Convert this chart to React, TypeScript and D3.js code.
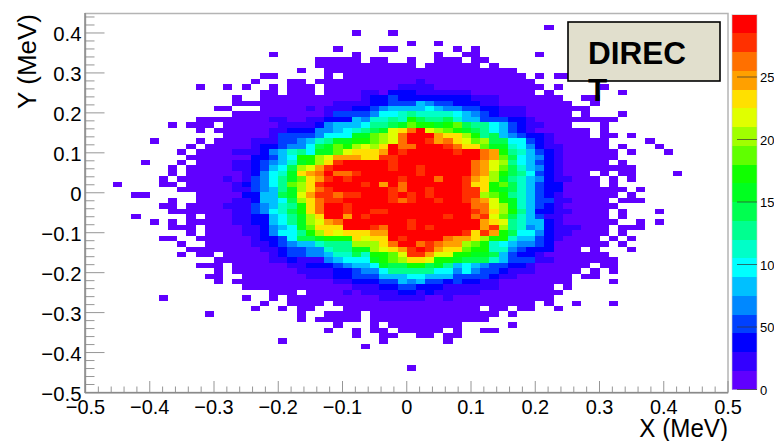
import React from "react";
import * as d3 from "d3";

// Histogram: 70 x 70 bins. Each row (top to bottom) lists occupied bins.
// "a" one bin in the first band, "a-b" a span in the first band, "a=xyz" successive bins with band codes (base 20).
const histogramRows: string[] = [
  "",
  "",
  "50",
  "29 33",
  "",
  "35 38",
  "27 32-33 40 42",
  "20 29 38 41-42 49",
  "25-29 31-32 35 38-40 42-43",
  "25-35 37-42 44",
  "23 26-46",
  "19-20 26 28-47 49 51-52",
  "18 22-23 25-35 36=1 37-48",
  "12 15 17 20 22-24 26-33 34=1111 38-49 51 56",
  "19-20 22-24 26-29 30=11 32 33=222 36=111111 42-48 50 58",
  "16 19-29 30=12232 35=2222222 42=111 45-51 54-55",
  "16-26 27=1111 31=22 33=33 35=35433 40=222 43=11 45-52 55",
  "14-15 19-23 24=101 27=11 29=22 31=34 33=555 36=56 38=5443 42=3 43=22 45=111 48-54",
  "16-25 26=1 27=3333 31=4 32=66 34=78 36=7777 40=654 43=32 45=111 48-52 54 58",
  "12-19 20=11 22-23 24=11 26=222 29=54 31=77 33=87 35=b 36=9889 40=7 41=55 43=333 46=22 48=1 49-57",
  "9 11-13 15-20 21=1111 25=2 26=4 27=555 30=6 31=889 34=a 35=cbbabc 41=98 43=8 44=65 46=3 47=2 48=11 50-52 56",
  "12 14-19 20=11 22=222 25=44 27=56 29=7 30=8 31=9 32=a 33=e 34=f 35=h 36=j 37=e 38=d 39=cb 41=a 42=9 43=8 44=6 45=5 46=3 47=2 48=1 49-54 56",
  "15-19 20=1 21=33 23=33 25=4 26=666 29=a 30=a 31=c 32=d 33=e 34=h 35=jjj 38=gff 41=db8 44=9 45=5 46=4 47=3 48=22 50=1 51-54 56-57 59",
  "7 12 14-17 18=111 21=33 23=4 24=5 25=7 26=8 27=aa 29=bb 31=c 32=d 33=e 34=h 35=jjighfe 42=cd 44=99 46=66 48=3 49=2 50=1 51-56 61",
  "11 13-17 18=1 19=22 21=3 22=44 24=6 25=9 26=a 27=c 28=b 29=d 30=e 31=d 32=f 33=j 34=h 35=hjjjih 41=ff 43=c 44=aa 46=7 47=6 48=4 49=2 50=11 52-56 58 62",
  "10 12-15 16=11 18=1 19=2 20=45 22=7 23=8 24=6 25=aa 27=c 28=e 29=fff 32=g 33=j 34=i 35=jjjjj 40=i 41=jj 43=h 44=g 45=b 46=8 47=7 48=5 49=3 50=2 51=1 52-57 59 63",
  "11-17 18=22 20=3 21=5 22=6 23=bb 25=d 26=e 27=ggg 30=ff 32=i 33=ij 35=jjjjjjjj 43=h 44=g 45=c 46=9 47=6 48=5 49=4 50=2 51=1 52-57",
  "6 10 12-15 16=11 18=2 19=3 20=4 21=5 22=7 23=a 24=b 25=d 26=f 27=i 28=jjjjj 33=i 34=j 35=jjjjjjj 42=h 43=g 44=e 45=d 46=8 47=6 48=5 49=3 50=2 51=1 52-56 58",
  "9 11-15 16=11 18=2 19=3 20=5 21=6 22=9 23=d 24=e 25=g 26=i 27=jjjjjj 33=i 34=j 35=jijjjjj 42=h 43=g 44=e 45=c 46=9 47=7 48=5 49=4 50=2 51=1 52-59",
  "9 11-16 17=1 18=2 19=4 20=6 21=7 22=a 23=f 24=g 25=h 26=j 27=hh 29=i 30=jjjjjj 36=i 37=jjjjj 42=h 43=g 44=d 45=b 46=9 47=8 48=6 49=3 50=2 51=1 52-54 56 58-59 64",
  "8 10-14 15=1 16 17=1 18=3 19=4 20=6 21=8 22=a 23=c 24=f 25=g 26=i 27=j 28=i 29=jjjjj 34=i 35=jjj 38=h 39=jj 41=i 42=g 43=f 44=d 45=a 46=8 47=7 48=5 49=4 50=2 51=11 53-55 57 59",
  "3 8-9 11-15 16=1 17=2 18=3 19=4 20=6 21=8 22=c 23=d 24=f 25=i 26=jjjj 30=i 31=j 32=g 33=j 34=h 35=jjjjjj 41=i 42=ff 44=b 45=c 46=9 47=7 48=5 49=3 50=22 52-55 57",
  "10-15 16=11 18=3 19=4 20=5 21=8 22=a 23=d 24=f 25=h 26=i 27=jjjjjj 33=i 34=h 35=jji 38=jjj 41=ii 43=f 44=b 45=a 46=9 47=7 48=5 49=3 50=22 52-58 60",
  "5-6 12-16 17=22 19=55 21=9 22=a 23=e 24=g 25=ii 27=h 28=ii 30=jjj 33=i 34=j 35=i 36=ji 38=jjj 41=ii 43=d 44=c 45=b 46=8 47=7 48=5 49=3 50=2 51=1 52-57 59",
  "9 12-15 16=11 18=2 19=55 21=6 22=9 23=d 24=f 25=h 26=ii 28=jjjjj 33=i 34=h 35=ijjijj 41=i 42=h 43=g 44=e 45=b 46=a 47=7 48=5 49=33 51=11 53-56 58-60",
  "8-9 11-14 15=1 16=11 18=3 19=4 20=5 21=7 22=8 23=b 24=f 25=h 26=jj 28=i 29=jjjjjjjjjjjjj 42=hh 44=e 45=d 46=a 47=7 48=5 49=3 50=2 51=1 52-57",
  "9-15 16=11 18=3 19=4 20=6 21=7 22=9 23=b 24=f 25=h 26=jj 28=i 29=jj 31=ii 33=jjjjjjjjj 42=i 43=h 44=f 45=d 46=b 47=8 48=5 49=22 51=11 53-56 58 62",
  "5 11 13-15 16=11 18=22 20=5 21=6 22=8 23=a 24=d 25=f 26=jj 28=g 29=j 30=i 31=jjjjjjjj 39=i 40=jj 42=h 43=i 44=e 45=c 46=9 47=7 48=5 49=3 50=11 52-56 58",
  "7 9 11-15 16=11 18=22 20=5 21=6 22=8 23=a 24=d 25=e 26=g 27=h 28=jjjjjjj 35=ijjjjjj 42=j 43=g 44=f 45=e 46=8 47=7 48=55 50=2 51=1 52-57 60 62",
  "9-11 13-16 17=11 19=2 20=4 21=5 22=6 23=a 24=c 25=fff 28=jjj 31=i 32=h 33=jji 36=j 37=i 38=jjjj 42=j 43=g 44=i 45=d 46=8 47=7 48=4 49=5 50=2 51=111 54-56 58-60",
  "11 13-16 17=11 19=2 20=4 21=66 23=8 24=b 25=d 26=fe 28=f 29=ff 31=gg 33=jjj 36=jjjjj 41=i 42=f 43=i 44=g 45=b 46=9 47=66 49=4 50=2 51=11 53-56 58",
  "8-9 12-17 18=1 19=22 21=3 22=6 23=99 25=a 26=bbb 29=f 30=e 31=ff 33=j 34=i 35=jjjj 39=h 40=gg 42=f 43=d 44=bb 46=7 47=55 49=3 50=2 51=1 52-55 57 59",
  "10 13-17 18=11 20=2 21=3 22=4 23=55 25=7 26=888 29=ddd 32=f 33=h 34=j 35=jhihgg 41=d 42=c 43=b 44=7 45=6 46=5 47=44 49=3 50=2 51-56 58",
  "11-18 19=11 21=2 22=33 24=44 26=7 27=88 29=aa 31=d 32=e 33=f 34=g 35=iji 38=g 39=ff 41=c 42=bb 44=77 46=4 47=3 48=22 50=2 51-53 55 59",
  "10 12-13 15-19 20=1 21=2 22=33 24=44 26=5 27=77 29=9 30=7 31=bb 33=c 34=e 35=iig 38=ee 40=bb 42=aa 44=9 45=5 46=3 47=22 49=1 50-56",
  "14-19 20=11 22=2 23=111 26=4 27=5 28=666 31=a 32=b 33=c 34=d 35=ffe 38=bb 40=a 41=999 44=7 45=5 46=3 47=33 49=11 51-57",
  "12-14 16-21 22=11 24=222 27=3 28=4 29=55 31=6 32=a 33=99 35=bb 37=9 38=a 39=8 40=5 41=6 42=5 43=4 44=33 46=22 48=1 49-54 56-57",
  "14 16-22 23=1111 27=22 29=3 30=44 32=6 33=888 36=88 38=66 40=4 41=6 42=4 43=33 45=2 46=111 49-53 55 57",
  "13-14 17-23 24=111 27=22 29=333 32=555 35=66 37=555 40=3 41=333 44=2 45=11 47-52 54-55",
  "14 16-26 27=11 29=222 32=33 34=54 36=5 37=33 39=2 40=3 41=22 43=11 45-52 57",
  "17-28 29=111 32=22 34=33 36=222 39=1111 43=11 45-50 52",
  "20-22 24-27 28=1 29 30=1111 34=22 36=1 37=2 38=11111 43-51",
  "8 17 20 22-31 32=11111 37-38 39=1 40-50",
  "19 22-25 27-48 50 53 57",
  "18 21 23-24 28-42 44-45 47-48 51",
  "13 23 26-29 31-44 46",
  "23 25-29 31-43",
  "27 31 33-40 46",
  "26 29 31-32 34-38 40 43-44",
  "29 32-33 36-37 39-40",
  "21 32 39",
  "30",
  "",
  "",
  "",
  "35",
  "",
  "",
  "",
  "",
];

const palette = [
  "#6000ff", "#3300ff", "#0000ff", "#0040ff", "#0088ff", "#00c0ff", "#00ffff", "#00ffc8", "#00ff90", "#00ff50",
  "#00ff20", "#10ff00", "#60ff00", "#a0ff00", "#e0ff00", "#ffe000", "#ffa000", "#ff7000", "#ff3000", "#ff0000",
];
const zMax = 300;
const xTickValues = [-0.5, -0.4, -0.3, -0.2, -0.1, 0, 0.1, 0.2, 0.3, 0.4, 0.5];
const yTickValues = [-0.5, -0.4, -0.3, -0.2, -0.1, 0, 0.1, 0.2, 0.3, 0.4];
const zTickValues = [0, 50, 100, 150, 200, 250];

const FONT = "'Liberation Sans', Arial, sans-serif";
const nBins = 70;
const yTop = 0.4475;

const x = d3.scaleLinear().domain([-0.5, 0.5]).range([85.5, 728]);
const y = d3.scaleLinear().domain([-0.5, yTop]).range([392.5, 14]);
const z = d3.scaleLinear().domain([0, zMax]).range([389.5, 14.5]);
const colour = d3.scaleQuantize<string>().domain([0, zMax]).range(palette);

type Cell = { col: number; row: number; count: number };

function parseRow(text: string, row: number): Cell[] {
  const out: Cell[] = [];
  const bandToCount = (b: number) => (b + 0.5) * (zMax / palette.length);
  if (!text) return out;
  for (const tok of text.split(" ")) {
    if (tok.includes("=")) {
      const [s, codes] = tok.split("=");
      [...codes].forEach((c, i) => out.push({ col: +s + i, row, count: bandToCount(parseInt(c, 20)) }));
    } else if (tok.includes("-")) {
      const [a, b] = tok.split("-").map(Number);
      for (let c = a; c <= b; c++) out.push({ col: c, row, count: bandToCount(0) });
    } else {
      out.push({ col: +tok, row, count: bandToCount(0) });
    }
  }
  return out;
}

const cells: Cell[] = histogramRows.flatMap(parseRow);
const xEdge = d3.scaleLinear().domain([0, nBins]).range(x.domain());
const yEdge = d3.scaleLinear().domain([0, nBins]).range([yTop, -0.5]);

const fmt = (v: number) => (v < 0 ? "\u2212" : "") + (v === 0 ? "0" : Math.abs(v).toFixed(1));
const AXIS = "#8a8a8a";

export default function App() {
  const xMinor = d3.range(0, 51).map((i) => -0.5 + i * 0.02);
  const yMinor = d3.range(0, 48).map((i) => -0.5 + i * 0.02);
  const xb = x(0.5);
  const bands = palette.map((c, i) => ({ c, y0: z((i * zMax) / palette.length), y1: z(((i + 1) * zMax) / palette.length) }));
  return (
    <svg
      width={774}
      height={441}
      style={{ position: "fixed", left: 0, top: 0, background: "#fff", display: "block" }}
      fontFamily={FONT}
    >
      <g shapeRendering="crispEdges">
        {cells.map((d) => {
          const x0 = Math.round(x(xEdge(d.col)));
          const x1 = Math.round(x(xEdge(d.col + 1)));
          const y0 = Math.round(y(yEdge(d.row)));
          const y1 = Math.round(y(yEdge(d.row + 1)));
          return <rect key={`${d.row}-${d.col}`} x={x0} y={y0} width={x1 - x0} height={y1 - y0} fill={colour(d.count)} />;
        })}
      </g>

      {/* frame */}
      <rect x={85.5} y={13.5} width={xb - 85.5} height={379} fill="none" stroke="#b4b4b4" strokeWidth={1.5} />
      <line x1={85} x2={85} y1={13} y2={393} stroke={AXIS} strokeWidth={1.5} />
      <line x1={85} x2={728} y1={392.7} y2={392.7} stroke={AXIS} strokeWidth={1.5} />

      {/* ticks */}
      {xMinor.map((v, i) => (
        <line key={i} x1={x(v)} x2={x(v)} y1={392} y2={i % 5 === 0 ? 381 : 386.5} stroke={AXIS} strokeWidth={0.9} />
      ))}
      {yMinor.map((v, i) => (
        <line key={i} x1={85} x2={i % 5 === 0 ? 104.5 : 94.5} y1={y(v)} y2={y(v)} stroke={AXIS} strokeWidth={0.9} />
      ))}

      {/* tick labels */}
      {xTickValues.map((v) => (
        <text key={v} transform={`translate(${x(v)},414) scale(0.95,1)`} textAnchor="middle" fontSize={21} fill="#000">
          {fmt(v)}
        </text>
      ))}
      {yTickValues.map((v) => (
        <text key={v} transform={`translate(81.5,${y(v) + 8.5}) scale(0.97,1)`} textAnchor="end" fontSize={21} fill="#000">
          {fmt(v)}
        </text>
      ))}

      {/* axis titles */}
      <text transform="translate(728,437) scale(0.93,1)" textAnchor="end" fontSize={26} fill="#000">
        X (MeV)
      </text>
      <text transform="translate(36,14) rotate(-90)" textAnchor="end" fontSize={26} fill="#000">
        Y (MeV)
      </text>

      {/* palette */}
      <g shapeRendering="crispEdges">
        {bands.map((b) => (
          <rect key={b.c} x={732} y={b.y1} width={25} height={b.y0 - b.y1} fill={b.c} />
        ))}
      </g>
      <rect x={732} y={14.5} width={25} height={375} fill="none" stroke="#c8c8c8" strokeWidth={0.6} />
      {zTickValues.map((v) => (
        <g key={v}>
          <line x1={737} x2={757} y1={z(v)} y2={z(v)} stroke="#333" strokeWidth={0.7} />
          <text x={760} y={z(v) + 5} fontSize={13} fill="#000">
            {v}
          </text>
        </g>
      ))}

      {/* label box */}
      <rect x={568} y={22} width={152} height={59} fill="#e1dfcd" stroke="#000" strokeWidth={1.6} />
      <text x={588} y={64} fontSize={31.5} fontWeight="bold" fill="#000">
        DIREC
      </text>
      <text x={588} y={101} fontSize={31.5} fontWeight="bold" fill="#000">
        T
      </text>
    </svg>
  );
}
